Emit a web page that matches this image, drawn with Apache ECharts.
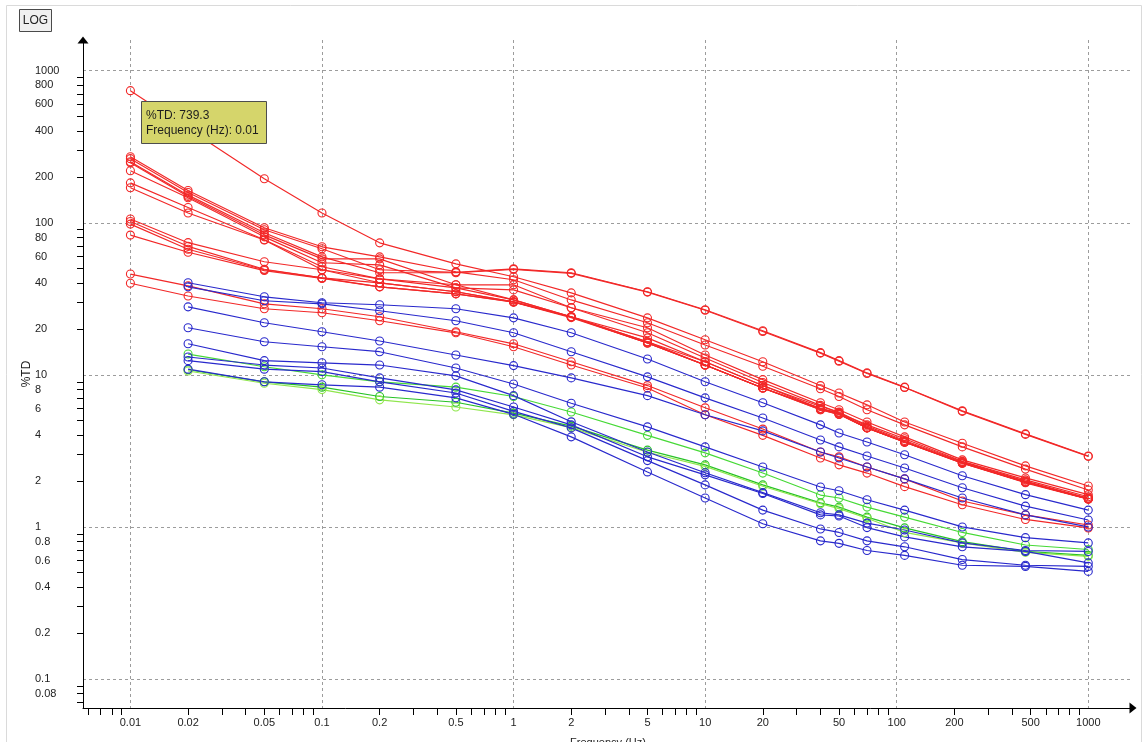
<!DOCTYPE html>
<html>
<head>
<meta charset="utf-8">
<title>%TD vs Frequency</title>
<script src="https://cdn.jsdelivr.net/npm/echarts@6/dist/echarts.min.js"></script>
<style>
  html, body { margin: 0; padding: 0; background: #ffffff; }
  #chart { width: 1146px; height: 742px; }
</style>
</head>
<body>
<div id="chart"></div>
<script>
// Sweep frequencies (Hz)
const frequencies = [0.01, 0.02, 0.05, 0.1, 0.2, 0.5, 1, 2, 5, 10, 20, 40, 50, 70, 110, 220, 470, 1000];

// %TD per sample at each frequency (null = no reading)
const red01 = [739.3, null, 195, 116, 73.8, 53.7, 44.2, 34.6, 23.7, 17.0, 12.2, 8.5, 7.6, 6.35, 4.9, 3.55, 2.52, 1.86];
const red02 = [272, 163, 92.7, 69.5, 59.7, 47.6, 42.2, 31.1, 22.0, 15.7, 11.4, 8.1, 7.2, 5.9, 4.69, 3.36, 2.40, 1.75];
const red03 = [264, 158, 89.9, 67.5, 49.1, 47.2, 49.8, 46.9, 35.2, 26.8, 19.5, 14.0, 12.4, 10.3, 8.3, 5.8, 4.09, 2.93];
const red04 = [252, 152, 85.9, 59.7, 46.9, 46.9, 49.4, 46.5, 35.0, 26.6, 19.3, 13.9, 12.3, 10.2, 8.25, 5.75, 4.06, 2.91];
const red05 = [248, 149, 83.3, 57.9, 57.9, 39.1, 39.1, 27.6, 20.4, 13.5, 9.3, 6.55, 5.9, 4.9, 3.91, 2.76, 2.10, 1.63];
const red06 = [220, 146, 80.8, 54.6, 52.9, 37.3, 36.2, 27.6, 18.9, 12.9, 8.9, 6.3, 5.62, 4.69, 3.80, 2.70, 2.04, 1.58];
const red07 = [183, 126, 77.3, 51.4, 42.8, 39.1, 31.1, 24.1, 17.5, 12.2, 8.5, 6.0, 5.62, 4.48, 3.62, 2.64, 1.97, 1.53];
const red08 = [170, 116, 77.0, 49.1, 40.3, 35.2, 30.2, 24.1, 16.5, 11.6, 8.2, 5.9, 5.5, 4.48, 3.62, 2.64, 1.97, 1.53];
const red09 = [106, 74, 55.4, 49.1, 42.8, 37.3, 31.1, 24.1, 16.5, 12.2, 8.5, 6.2, 5.7, 4.6, 3.70, 2.68, 2.00, 1.55];
const red10 = [102, 70, 49.5, 43.4, 40.3, 35.2, 30.2, 24.0, 16.2, 11.6, 8.2, 6.0, 5.6, 4.5, 3.65, 2.64, 1.97, 1.53];
const red11 = [98, 67, 49.1, 43.4, 37.9, 34.1, 30.2, 24.0, 16.2, 11.6, 8.2, 6.0, 5.5, 4.48, 3.62, 2.62, 1.97, 1.53];
const red12 = [83, 64, 48.5, 43.0, 37.9, 34.1, 30.0, 23.8, 16.2, 11.6, 8.2, 5.9, 5.5, 4.48, 3.60, 2.62, 1.95, 1.52];
const red13 = [46, 38.5, 29.3, 27.2, 24.1, 19.2, 16.0, 12.2, 8.5, 6.07, 4.4, 3.11, 2.89, 2.48, 2.07, 1.48, 1.20, 1.03];
const red14 = [40, 33, 27.2, 25.6, 22.7, 18.9, 15.3, 11.6, 8.2, 5.46, 4.0, 2.84, 2.56, 2.26, 1.84, 1.40, 1.12, 0.985];

const blue1 = [null, 40.3, 32.6, 29.8, 28.9, 27.2, 23.7, 18.9, 12.7, 9.0, 6.55, 4.69, 4.15, 3.62, 2.98, 2.17, 1.63, 1.29];
const blue2 = [null, 37.9, 30.7, 29.3, 26.4, 22.7, 18.9, 14.2, 9.7, 7.06, 5.2, 3.73, 3.36, 2.93, 2.44, 1.81, 1.37, 1.11];
const blue3 = [null, 28.0, 22.0, 19.2, 16.7, 13.5, 11.5, 9.55, 7.3, 5.46, 4.28, 3.11, 2.84, 2.48, 2.07, 1.55, 1.20, 1.00];
const blue4 = [null, 20.4, 16.5, 15.3, 14.2, 11.1, 8.7, 6.5, 4.55, 3.36, 2.48, 1.83, 1.73, 1.51, 1.29, 1.00, 0.85, 0.785];
const blue5 = [null, 16.0, 12.4, 12.0, 11.6, 9.85, 7.3, 4.91, 3.11, 2.27, 1.68, 1.24, 1.20, 1.06, 0.955, 0.785, 0.70, 0.69];
const blue6 = [null, 13.1, 11.6, 11.1, 9.55, 7.96, 6.15, 4.69, 2.89, 2.20, 1.66, 1.20, 1.18, 0.99, 0.86, 0.74, 0.69, 0.58];
const blue7 = [null, 12.4, 10.9, 10.5, 9.0, 7.6, 5.75, 4.48, 2.73, 1.89, 1.29, 0.97, 0.92, 0.81, 0.74, 0.61, 0.56, 0.55];
const blue8 = [null, 10.9, 9.0, 8.6, 8.3, 7.06, 5.5, 3.91, 2.30, 1.55, 1.05, 0.81, 0.78, 0.70, 0.65, 0.56, 0.55, 0.51];

const green1 = [null, 13.7, 11.3, 10.0, 9.0, 8.3, 7.2, 5.7, 4.0, 3.07, 2.26, 1.62, 1.55, 1.35, 1.16, 0.92, 0.76, 0.71];
const green2 = [null, 10.8, 9.0, 8.3, 7.2, 6.6, 5.6, 4.6, 3.2, 2.56, 1.89, 1.44, 1.35, 1.16, 0.985, 0.80, 0.69, 0.65];
const green3 = [null, 10.6, 8.8, 8.0, 6.85, 6.15, 5.46, 4.5, 3.1, 2.5, 1.85, 1.42, 1.32, 1.14, 0.92, 0.785, 0.68, 0.64];

// Axis tick marks, labels and decade grid lines (raw units)
const xTickValues = [0.006, 0.007, 0.008, 0.009,
  0.02, 0.03, 0.04, 0.05, 0.06, 0.07, 0.08, 0.09,
  0.2, 0.3, 0.4, 0.5, 0.6, 0.7, 0.8, 0.9,
  2, 3, 4, 5, 6, 7, 8, 9,
  20, 30, 40, 50, 60, 70, 80, 90,
  200, 300, 400, 500, 600, 700, 800, 900];
const xLabelValues = [0.01, 0.02, 0.05, 0.1, 0.2, 0.5, 1, 2, 5, 10, 20, 50, 100, 200, 500, 1000];
const xGridValues = [0.01, 0.1, 1, 10, 100, 1000];

const yTickValues = [0.07, 0.08, 0.09,
  0.2, 0.3, 0.4, 0.5, 0.6, 0.7, 0.8, 0.9,
  2, 3, 4, 5, 6, 7, 8, 9,
  20, 30, 40, 50, 60, 70, 80, 90,
  200, 300, 400, 500, 600, 700, 800, 900];
const yLabelValues = [0.08, 0.1, 0.2, 0.4, 0.6, 0.8, 1, 2, 4, 6, 8, 10, 20, 40, 60, 80, 100, 200, 400, 600, 800, 1000];
const yGridValues = [0.1, 1, 10, 100, 1000];

// Visible range of both log axes (raw units)
const xRange = [0.005656, 1712];
const yRange = [0.06446, 1592];

const RED = '#f22828', BLUE = '#2929cc';
const redGroup = [red01, red02, red03, red04, red05, red06, red07, red08, red09, red10, red11, red12, red13, red14];
const blueGroup = [blue1, blue2, blue3, blue4, blue5, blue6, blue7, blue8];
const greenGroup = [green1, green2, green3];
const greenColors = ['#46d936', '#27c227', '#8fe64c'];

const lg = Math.log10;
const FONT = '"Liberation Sans", Arial, sans-serif';

function fmtLog(v) {
  return String(Number(Math.pow(10, v).toPrecision(3)));
}

function points(vals) {
  const out = [];
  vals.forEach(function (v, i) {
    if (v !== null) out.push([lg(frequencies[i]), lg(v)]);
  });
  return out;
}

function lineSeries(name, vals, color) {
  return {
    type: 'line',
    name: name,
    data: points(vals),
    xAxisIndex: 0,
    yAxisIndex: 0,
    symbol: 'circle',
    symbolSize: 8,
    showSymbol: true,
    silent: true,
    lineStyle: { color: color, width: 1.15 },
    itemStyle: { color: 'rgba(255,255,255,0)', borderColor: color, borderWidth: 1.1 },
    emphasis: { disabled: true }
  };
}

const series = [];
redGroup.forEach(function (d, i) { series.push(lineSeries('red' + (i + 1), d, RED)); });
greenGroup.forEach(function (d, i) { series.push(lineSeries('green' + (i + 1), d, greenColors[i])); });
blueGroup.forEach(function (d, i) { series.push(lineSeries('blue' + (i + 1), d, BLUE)); });

const labelStyle = { color: '#222', fontSize: 11, fontFamily: FONT };
const gridLine = { show: true, lineStyle: { color: '#9c9c9c', width: 1, type: [3, 3] } };

const chart = echarts.init(document.getElementById('chart'), null, { renderer: 'canvas' });

chart.setOption({
  animation: false,
  backgroundColor: '#ffffff',
  grid: { left: 83, right: 13, top: 40, bottom: 34, containLabel: false, outerBoundsMode: 'none' },
  xAxis: [
    {
      type: 'value', min: lg(xRange[0]), max: lg(xRange[1]),
      axisLine: { show: true, onZero: false, symbol: ['none', 'triangle'], symbolSize: [11, 7],
        lineStyle: { color: '#000', width: 1 } },
      axisTick: { show: true, inside: false, length: 7, lineStyle: { color: '#000', width: 1 },
        customValues: xTickValues.map(lg) },
      axisLabel: Object.assign({ customValues: xLabelValues.map(lg), formatter: fmtLog, margin: 9 }, labelStyle),
      splitLine: { show: false },
      name: 'Frequency (Hz)', nameLocation: 'middle', nameGap: 29, nameMoveOverlap: false,
      nameTextStyle: { color: '#222', fontSize: 11, fontFamily: FONT }
    },
    {
      type: 'value', min: lg(xRange[0]), max: lg(xRange[1]),
      axisLine: { show: false }, axisLabel: { show: false },
      axisTick: { show: false, customValues: xGridValues.map(lg) },
      splitLine: gridLine
    }
  ],
  yAxis: [
    {
      type: 'value', min: lg(yRange[0]), max: lg(yRange[1]),
      axisLine: { show: true, onZero: false, symbol: ['none', 'triangle'], symbolSize: [11, 7],
        lineStyle: { color: '#000', width: 1 } },
      axisTick: { show: true, inside: false, length: 6, lineStyle: { color: '#000', width: 1 },
        customValues: yTickValues.map(lg) },
      axisLabel: Object.assign({ customValues: yLabelValues.map(lg), formatter: fmtLog, margin: 48, align: 'left' }, labelStyle),
      splitLine: { show: false },
      name: '%TD', nameLocation: 'middle', nameGap: 50, nameRotate: 90, nameMoveOverlap: false,
      nameTextStyle: { color: '#222', fontSize: 12, fontFamily: FONT }
    },
    {
      type: 'value', min: lg(yRange[0]), max: lg(yRange[1]),
      axisLine: { show: false }, axisLabel: { show: false },
      axisTick: { show: false, customValues: yGridValues.map(lg) },
      splitLine: gridLine
    }
  ],
  series: series
});

// Panel frame, scale-mode button and the pinned readout for the first sample
const tipFreq = frequencies[0];
const tipValue = red01[0];
const tipPx = chart.convertToPixel({ xAxisIndex: 0, yAxisIndex: 0 }, [lg(tipFreq), lg(tipValue)]);
const boxX = Math.round(tipPx[0] + 11) + 0.5;
const boxY = Math.round(tipPx[1] + 10) + 0.5;

chart.setOption({
  graphic: [
    { id: 'frame', type: 'rect', silent: true, z: 0,
      shape: { x: 6.5, y: 5.5, width: 1135, height: 760 },
      style: { fill: 'none', stroke: '#dadada', lineWidth: 1 } },
    { id: 'logBtn', type: 'rect', silent: true, z: 50,
      shape: { x: 19.5, y: 9.5, width: 32, height: 22 },
      style: { fill: '#f0f0f0', stroke: '#4a4a4a', lineWidth: 1 } },
    { id: 'logTxt', type: 'text', silent: true, z: 51, x: 35.5, y: 21,
      style: { text: 'LOG', font: '12px ' + FONT, fill: '#222', align: 'center', verticalAlign: 'middle' } },
    { id: 'tipBox', type: 'rect', silent: true, z: 100,
      shape: { x: boxX, y: boxY, width: 125, height: 42 },
      style: { fill: '#d5d56b', stroke: '#4d4d4d', lineWidth: 1 } },
    { id: 'tipTxt', type: 'text', silent: true, z: 101, x: boxX + 4.5, y: boxY + 6,
      style: { text: '%TD: ' + tipValue + '\nFrequency (Hz): ' + tipFreq,
        font: '12px ' + FONT, fill: '#1e1e1e', lineHeight: 15.5, align: 'left', verticalAlign: 'top' } }
  ]
});
</script>
</body>
</html>
